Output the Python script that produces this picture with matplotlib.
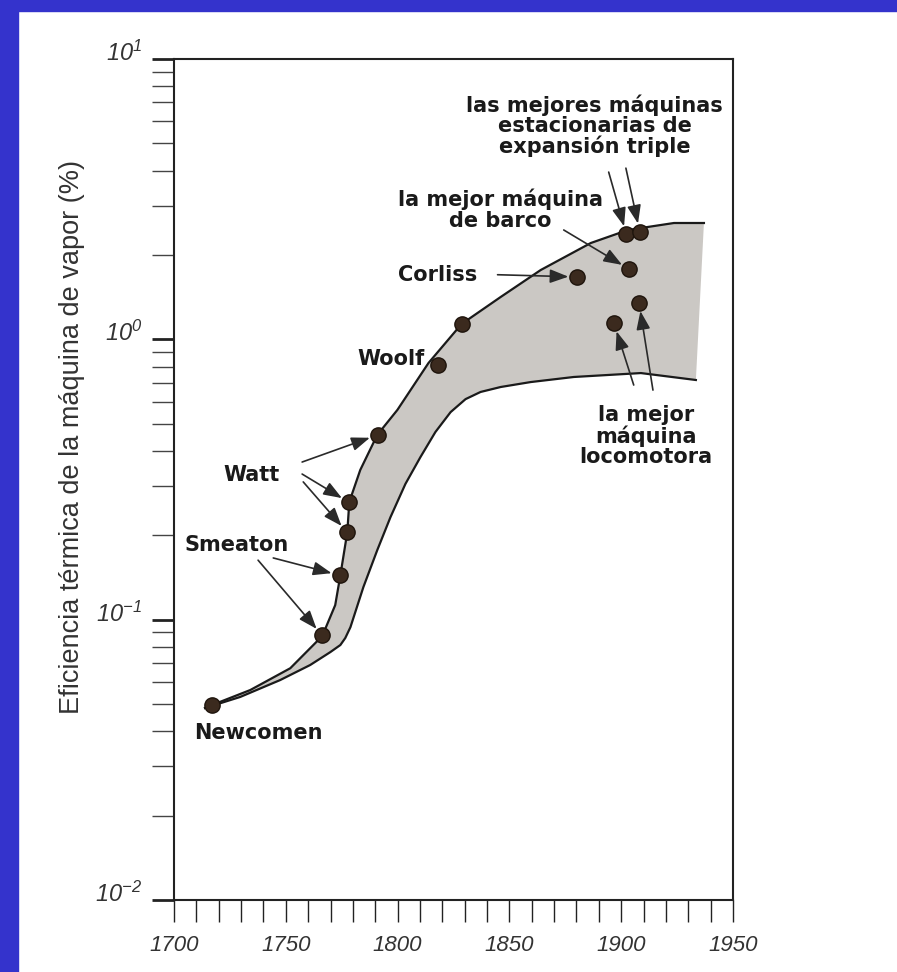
# Eficiencia térmica de la máquina de vapor (1700-1950)

import matplotlib.pyplot as plt
from matplotlib.patches import Rectangle
from matplotlib.transforms import ScaledTranslation

# puntos de las máquinas
anios = [1717.0, 1766.2, 1774.1, 1777.4, 1778.3, 1791.1, 1818.1, 1828.6,
         1880.1, 1903.6, 1902.3, 1908.3, 1896.8, 1908.0]
eficiencia = [0.0496, 0.088, 0.144, 0.205, 0.262, 0.456, 0.81, 1.13,
              1.67, 1.78, 2.37, 2.42, 1.14, 1.35]

# borde superior de la banda
sup_anios = [1713.9, 1717.0, 1734.1, 1752.0, 1766.3, 1772.1, 1774.4, 1777.5,
             1778.4, 1783.3, 1790.9, 1799.9, 1813.8, 1828.6, 1846.1, 1864.0,
             1886.4, 1903.0, 1923.6, 1937.0]
sup_valores = [0.0484, 0.0496, 0.0561, 0.0671, 0.0874, 0.1127, 0.144, 0.205,
               0.263, 0.342, 0.456, 0.56, 0.823, 1.134, 1.416, 1.767,
               2.206, 2.455, 2.60, 2.60]

# borde inferior de la banda
inf_anios = [1713.9, 1729.6, 1747.5, 1760.9, 1769.9, 1774.4, 1776.6, 1778.9,
             1784.7, 1790.9, 1796.8, 1803.5, 1810.2, 1816.9, 1823.7, 1830.4,
             1837.1, 1846.1, 1859.5, 1878.8, 1908.8, 1933.4]
inf_valores = [0.0484, 0.053, 0.0609, 0.0689, 0.0766, 0.0812, 0.086, 0.094,
               0.1307, 0.177, 0.232, 0.305, 0.38, 0.467, 0.55, 0.612,
               0.649, 0.676, 0.704, 0.734, 0.758, 0.716]

x_ticks = [1700, 1750, 1800, 1850, 1900, 1950]
y_ticks = [0.01, 0.1, 1, 10]
y_etiquetas = [r'$\mathrm{10^{-2}}$', r'$\mathrm{10^{-1}}$',
               r'$\mathrm{10^{0}}$', r'$\mathrm{10^{1}}$']

plt.rcParams['mathtext.fontset'] = 'custom'
plt.rcParams['mathtext.rm'] = 'Liberation Sans:italic'
plt.rcParams['mathtext.it'] = 'Liberation Sans:italic'

fig = plt.figure(figsize=(8.97, 9.72), dpi=100)
fig.patch.set_facecolor('white')

# franjas azules de la diapositiva
azul = '#3433cc'
fig.patches.append(Rectangle((0, 0), 18 / 897, 1, transform=fig.transFigure,
                             color=azul, zorder=0))
fig.patches.append(Rectangle((0, 1 - 11 / 972), 1, 11 / 972,
                             transform=fig.transFigure, color=azul, zorder=0))

ax = fig.add_axes([174 / 897, 72 / 972, 559 / 897, 841 / 972])
ax.set_yscale('log')
ax.set_xlim(1700, 1950)
ax.set_ylim(0.01, 10)

# banda gris
banda_x = sup_anios + inf_anios[::-1]
banda_y = sup_valores + inf_valores[::-1]
ax.fill(banda_x, banda_y, color='#cbc8c4', lw=0, zorder=1)
ax.plot(sup_anios, sup_valores, color='#1a1a1a', lw=1.6, zorder=2,
        solid_joinstyle='round')
ax.plot(inf_anios, inf_valores, color='#1a1a1a', lw=1.6, zorder=2,
        solid_joinstyle='round')

ax.plot(anios, eficiencia, 'o', markersize=11, color='#3b2a1e',
        markeredgecolor='#1e140c', markeredgewidth=1, zorder=4)

# textos
fuente = dict(fontsize=15, fontweight='bold', color='#1a1a1a',
              family='DejaVu Sans', ha='center', va='center')
ax.text(1737.6, 0.0394, 'Newcomen', **fuente)
ax.text(1734.5, 0.328, 'Watt', **fuente)
ax.text(1727.8, 0.1845, 'Smeaton', **fuente)
ax.text(1797.2, 0.85, 'Woolf', **fuente)
ax.text(1817.8, 1.696, 'Corliss', **fuente)
ax.text(1846.1, 2.89, 'la mejor máquina\nde barco', linespacing=1.05, **fuente)
ax.text(1888.2, 5.77, 'las mejores máquinas\nestacionarias de\nexpansión triple',
        linespacing=1.0, **fuente)
ax.text(1911.0, 0.452, 'la mejor\nmáquina\nlocomotora', linespacing=1.0, **fuente)

# flechas: (inicio, punto)
flechas = [
    ((1757.3, 0.365), 5), ((1757.3, 0.3307), 4), ((1757.8, 0.31), 3),
    ((1744.4, 0.166), 2), ((1737.6, 0.163), 1),
    ((1844.7, 1.70), 8), ((1874.3, 2.455), 9),
    ((1894.4, 3.95), 10), ((1902.1, 4.08), 11),
    ((1905.6, 0.687), 12), ((1914.2, 0.659), 13),
]
for inicio, i in flechas:
    ax.annotate('', xy=(anios[i], eficiencia[i]), xytext=inicio,
                arrowprops=dict(arrowstyle='-|>,head_length=0.8,head_width=0.3',
                                color='#2a2a2a', lw=1.2, shrinkA=0, shrinkB=6,
                                mutation_scale=14), zorder=3)

# ejes
for lado in ['left', 'right', 'top', 'bottom']:
    ax.spines[lado].set_linewidth(1.5)
    ax.spines[lado].set_color('#222222')

ax.set_xticks(x_ticks)
ax.set_xticks(range(1700, 1951, 10), minor=True)
ax.set_xticklabels([str(a) for a in x_ticks], fontsize=16, fontstyle='italic',
                   family='Liberation Sans', color='#333333')
ax.set_yticks(y_ticks)
ax.set_yticklabels(y_etiquetas, fontsize=17, color='#333333')
ax.tick_params(axis='x', which='both', direction='out', length=16, width=1.0,
               pad=9, color='#222222')
ax.tick_params(axis='y', which='major', direction='out', length=16, width=2.0,
               pad=7, color='#222222')
ax.tick_params(axis='y', which='minor', direction='out', length=16, width=1.0,
               color='#444444')
ax.yaxis.set_minor_formatter(plt.NullFormatter())

for etiqueta in ax.get_yticklabels():
    etiqueta.set_transform(etiqueta.get_transform() +
                           ScaledTranslation(0, 6 / 72, fig.dpi_scale_trans))

fig.text(72 / 897, 1 - 437 / 972, 'Eficiencia térmica de la máquina de vapor (%)',
         rotation=90, ha='center', va='center', fontsize=19.5,
         family='Liberation Sans', color='#333333')

plt.savefig('out.png', dpi=100)
